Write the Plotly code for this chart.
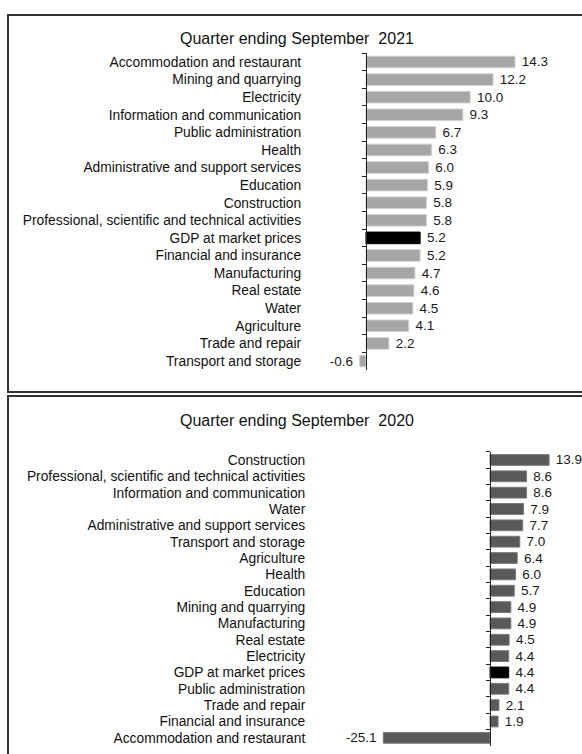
import plotly.graph_objects as go

# ---- data ----
title_2021 = "Quarter ending September\u00a0\u00a02021"
cats_2021 = ["Accommodation and restaurant", "Mining and quarrying", "Electricity",
             "Information and communication", "Public administration", "Health",
             "Administrative and support services", "Education", "Construction",
             "Professional, scientific and technical activities", "GDP at market prices",
             "Financial and insurance", "Manufacturing", "Real estate", "Water",
             "Agriculture", "Trade and repair", "Transport and storage"]
vals_2021 = [14.3, 12.2, 10.0, 9.3, 6.7, 6.3, 6.0, 5.9, 5.8, 5.8, 5.2, 5.2, 4.7, 4.6, 4.5, 4.1, 2.2, -0.6]

title_2020 = "Quarter ending September\u00a0\u00a02020"
cats_2020 = ["Construction", "Professional, scientific and technical activities",
             "Information and communication", "Water", "Administrative and support services",
             "Transport and storage", "Agriculture", "Health", "Education",
             "Mining and quarrying", "Manufacturing", "Real estate", "Electricity",
             "GDP at market prices", "Public administration", "Trade and repair",
             "Financial and insurance", "Accommodation and restaurant"]
vals_2020 = [13.9, 8.6, 8.6, 7.9, 7.7, 7.0, 6.4, 6.0, 5.7, 4.9, 4.9, 4.5, 4.4, 4.4, 4.4, 2.1, 1.9, -25.1]

W, H = 582, 754
FONT = "Liberation Sans, Arial, sans-serif"
HIGHLIGHT = "GDP at market prices"

def px_x(p):
    return p / W

def px_y(p):
    return 1 - p / H

def clamp(f):
    return min(1.0, max(0.0, f))

def label(v):
    return ("\u00a0" + f"{v:.1f}") if v >= 0 else (f"{v:.1f}" + "\u00a0")

fig = go.Figure()

panels = [
    dict(cats=cats_2021, vals=vals_2021, title=title_2021, color="#a6a6a6", line="#d0d0d0",
         xdom=(310, 578), xr=(-5.37, 20.35), ydom=(53.2, 369.8), standoff=62,
         xa="x", ya="y", title_y=38, box=(8, 15, 600, 392)),
    dict(cats=cats_2020, vals=vals_2020, title=title_2020, color="#595959", line="#7a7a7a",
         xdom=(320, 578), xr=(-40.0, 20.7), ydom=(451.8, 746.0), standoff=182,
         xa="x2", ya="y2", title_y=420, box=(8, 396, 600, 800)),
]

for i, p in enumerate(panels):
    colors = ["#000000" if c == HIGHLIGHT else p["color"] for c in p["cats"]]
    lines = ["#000000" if c == HIGHLIGHT else p["line"] for c in p["cats"]]
    fig.add_trace(go.Bar(
        x=p["vals"], y=p["cats"], orientation="h",
        marker=dict(color=colors, line=dict(color=lines, width=1)),
        width=0.66,
        text=[label(v) for v in p["vals"]], textposition="outside",
        constraintext="none",
        textfont=dict(family=FONT, size=13.5, color="#1a1a1a"),
        cliponaxis=False, xaxis=p["xa"], yaxis=p["ya"], showlegend=False,
        hoverinfo="skip",
    ))
    xd = (clamp(px_x(p["xdom"][0])), clamp(px_x(p["xdom"][1])))
    yd = (clamp(px_y(p["ydom"][1])), clamp(px_y(p["ydom"][0])))
    r0, r1 = p["xr"]
    zero_pos = xd[0] + (0 - r0) / (r1 - r0) * (xd[1] - xd[0])
    sfx = "" if i == 0 else "2"
    fig.update_layout(**{
        "xaxis" + sfx: dict(domain=list(xd), range=[r0, r1], visible=False,
                            anchor="y" + sfx),
        "yaxis" + sfx: dict(domain=list(yd), type="category", range=[17.5, -0.5],
                            anchor="free", position=zero_pos, showline=True,
                            linecolor="#222", linewidth=1, ticks="outside",
                            tickson="boundaries", ticklen=4, tickcolor="#222",
                            tickmode="linear", tick0=0, dtick=1,
                            ticklabelstandoff=p["standoff"], showgrid=False,
                            tickfont=dict(family=FONT, size=13.8, color="#111")),
    })
    fig.add_annotation(text=p["title"], xref="paper", yref="paper",
                       x=px_x(297), y=px_y(p["title_y"]), showarrow=False,
                       xanchor="center", yanchor="middle",
                       font=dict(family=FONT, size=16, color="#111"))
    bx0, by0, bx1, by1 = p["box"]
    fig.add_shape(type="rect", xref="paper", yref="paper",
                  x0=px_x(bx0), x1=px_x(bx1), y0=px_y(by1), y1=px_y(by0),
                  line=dict(color="#333333", width=2), fillcolor="rgba(0,0,0,0)",
                  layer="below")

fig.update_layout(width=W, height=H, margin=dict(l=0, r=0, t=0, b=0),
                  paper_bgcolor="white", plot_bgcolor="white", bargap=0.34)

fig.write_html("out.html", config={"displayModeBar": False},
               post_script="document.body.style.margin='0';"
                           "document.documentElement.style.overflow='hidden';")
